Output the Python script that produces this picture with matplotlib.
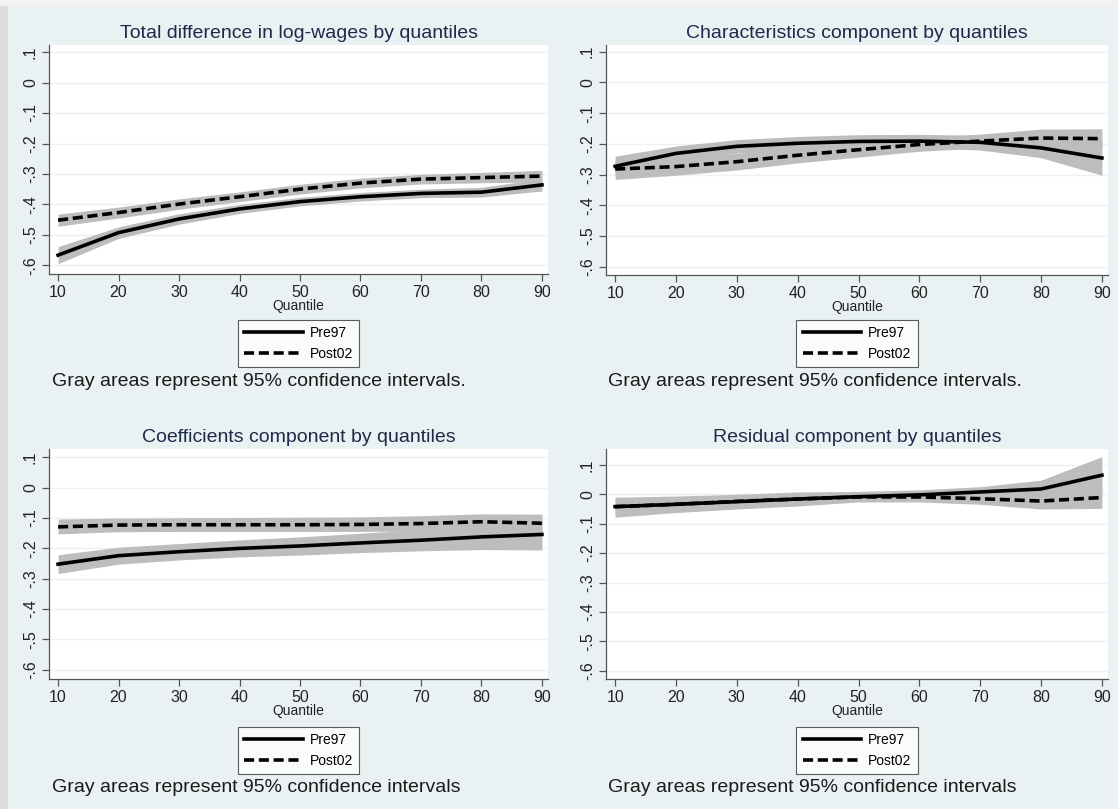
import matplotlib.pyplot as plt
from matplotlib.patches import Rectangle

plt.rcParams['font.family'] = ['Liberation Sans', 'DejaVu Sans']

# ---------- data ----------
quantiles = [10, 20, 30, 40, 50, 60, 70, 80, 90]
y_ticks = [0.1, 0, -0.1, -0.2, -0.3, -0.4, -0.5, -0.6]
y_tick_labels = ['.1', '0', '-.1', '-.2', '-.3', '-.4', '-.5', '-.6']
series_names = ['Pre97', 'Post02']

titles = ['Total difference in log-wages by quantiles',
          'Characteristics component by quantiles',
          'Coefficients component by quantiles',
          'Residual component by quantiles']
notes = ['Gray areas represent 95% confidence intervals.',
         'Gray areas represent 95% confidence intervals.',
         'Gray areas represent 95% confidence intervals',
         'Gray areas represent 95% confidence intervals']

# total difference
total_pre97 = [-0.567, -0.493, -0.448, -0.415, -0.391, -0.375, -0.364, -0.360, -0.336]
total_pre97_lo = [-0.595, -0.512, -0.465, -0.430, -0.405, -0.389, -0.378, -0.376, -0.356]
total_pre97_hi = [-0.539, -0.474, -0.431, -0.400, -0.377, -0.361, -0.350, -0.344, -0.316]
total_post02 = [-0.452, -0.427, -0.399, -0.375, -0.350, -0.330, -0.317, -0.312, -0.307]
total_post02_lo = [-0.472, -0.445, -0.416, -0.391, -0.366, -0.346, -0.333, -0.329, -0.326]
total_post02_hi = [-0.432, -0.409, -0.382, -0.359, -0.334, -0.314, -0.301, -0.295, -0.288]

# characteristics
char_pre97 = [-0.273, -0.231, -0.208, -0.198, -0.192, -0.191, -0.195, -0.213, -0.246]
char_pre97_lo = [-0.305, -0.255, -0.230, -0.220, -0.214, -0.213, -0.220, -0.245, -0.302]
char_pre97_hi = [-0.240, -0.207, -0.186, -0.176, -0.170, -0.169, -0.172, -0.183, -0.192]
char_post02 = [-0.282, -0.274, -0.258, -0.237, -0.219, -0.202, -0.191, -0.181, -0.183]
char_post02_lo = [-0.316, -0.302, -0.285, -0.262, -0.243, -0.224, -0.214, -0.210, -0.215]
char_post02_hi = [-0.250, -0.246, -0.231, -0.212, -0.195, -0.180, -0.168, -0.152, -0.151]

# coefficients
coef_pre97 = [-0.252, -0.224, -0.211, -0.200, -0.192, -0.182, -0.173, -0.162, -0.154]
coef_pre97_lo = [-0.283, -0.252, -0.238, -0.228, -0.222, -0.214, -0.208, -0.204, -0.205]
coef_pre97_hi = [-0.221, -0.196, -0.184, -0.172, -0.162, -0.150, -0.138, -0.120, -0.103]
coef_post02 = [-0.129, -0.123, -0.122, -0.122, -0.122, -0.121, -0.118, -0.112, -0.117]
coef_post02_lo = [-0.152, -0.145, -0.144, -0.144, -0.144, -0.144, -0.143, -0.140, -0.146]
coef_post02_hi = [-0.103, -0.100, -0.099, -0.098, -0.097, -0.096, -0.092, -0.086, -0.087]

# residual
resid_pre97 = [-0.042, -0.034, -0.025, -0.016, -0.008, -0.002, 0.008, 0.018, 0.065]
resid_pre97_lo = [-0.072, -0.060, -0.048, -0.036, -0.024, -0.018, -0.012, -0.012, 0.005]
resid_pre97_hi = [-0.012, -0.008, -0.002, 0.006, 0.010, 0.015, 0.026, 0.048, 0.128]
resid_post02 = [-0.042, -0.034, -0.024, -0.016, -0.009, -0.009, -0.015, -0.023, -0.011]
resid_post02_lo = [-0.078, -0.062, -0.050, -0.040, -0.026, -0.026, -0.034, -0.050, -0.048]
resid_post02_hi = [-0.010, -0.006, 0.000, 0.008, 0.008, 0.006, 0.004, 0.005, 0.020]

panels = [
    (total_pre97, total_pre97_lo, total_pre97_hi, total_post02, total_post02_lo, total_post02_hi),
    (char_pre97, char_pre97_lo, char_pre97_hi, char_post02, char_post02_lo, char_post02_hi),
    (coef_pre97, coef_pre97_lo, coef_pre97_hi, coef_post02, coef_post02_lo, coef_post02_hi),
    (resid_pre97, resid_pre97_lo, resid_pre97_hi, resid_post02, resid_post02_lo, resid_post02_hi),
]

# ---------- layout ----------
W, H = 1118, 809
BG = '#E9F1F3'
TITLE_COLOR = '#1C2B4A'
BAND = '#BDBDBD'

# axes boxes in pixels: left, top, right, bottom
boxes = [(49, 45, 548, 274), (606, 45, 1108, 275),
         (49, 449, 548, 679), (606, 449, 1108, 679)]
ylims = [(-0.629, 0.124), (-0.627, 0.122), (-0.631, 0.128), (-0.628, 0.154)]
legend_tops = [320, 320, 727, 727]
note_pos = [(52, 381), (608, 381), (52, 788), (608, 788)]

fig = plt.figure(figsize=(W / 100, H / 100), dpi=100)
fig.patch.set_facecolor(BG)
# screenshot frame edges
fig.patches.append(Rectangle((0, 0), 8 / W, 1, transform=fig.transFigure,
                             facecolor='#DCDCDC', edgecolor='none', zorder=0))
fig.patches.append(Rectangle((0, 1 - 6 / H), 1, 6 / H, transform=fig.transFigure,
                             facecolor='#F2F2F2', edgecolor='none', zorder=0))

for i, (pre, pre_lo, pre_hi, post, post_lo, post_hi) in enumerate(panels):
    l, t, r, b = boxes[i]
    ax = fig.add_axes([l / W, 1 - b / H, (r - l) / W, (b - t) / H])
    ax.set_facecolor('white')

    for yt in y_ticks:
        ax.axhline(yt, color='#EAF2F3', lw=1.0, zorder=0)

    ax.fill_between(quantiles, pre_lo, pre_hi, color=BAND, lw=0, zorder=1)
    ax.fill_between(quantiles, post_lo, post_hi, color=BAND, lw=0, zorder=1)
    ax.plot(quantiles, pre, color='black', lw=2.6, label=series_names[0], zorder=3)
    ax.plot(quantiles, post, color='black', lw=2.6, ls=(0, (2.8, 1.3)),
            label=series_names[1], zorder=3)

    ax.set_xlim(8.5, 91)
    ax.set_ylim(*ylims[i])
    ax.set_xticks(quantiles)
    ax.set_xticklabels([str(q) for q in quantiles], fontsize=11.5, color='#222222')
    ax.set_yticks(y_ticks)
    ax.set_yticklabels(y_tick_labels, fontsize=11.5, rotation=90, va='center',
                       color='#222222')
    ax.tick_params(length=5, width=0.9, color='#555555', pad=3)
    for side in ['top', 'right']:
        ax.spines[side].set_visible(False)
    for side in ['left', 'bottom']:
        ax.spines[side].set_color('#555555')
        ax.spines[side].set_linewidth(0.9)

    ax.set_xlabel('Quantile', fontsize=10, labelpad=-1, color='#222222')
    ax.set_title(titles[i], fontsize=14, color=TITLE_COLOR, pad=5)

    cx = (l + r) / 2 / W
    leg = ax.legend(loc='upper center', bbox_to_anchor=(cx, 1 - legend_tops[i] / H),
                    bbox_transform=fig.transFigure, borderaxespad=0,
                    fontsize=10, handlelength=4.2, handletextpad=0.5,
                    labelspacing=0.5, borderpad=0.45,
                    fancybox=False, frameon=True)
    leg.get_frame().set_edgecolor('#333333')
    leg.get_frame().set_linewidth(0.8)

    nx, ny = note_pos[i]
    fig.text(nx / W, 1 - ny / H, notes[i], fontsize=14, color='#1A1A1A',
             ha='left', va='center')

fig.savefig('out.png', dpi=100, facecolor=fig.get_facecolor())
